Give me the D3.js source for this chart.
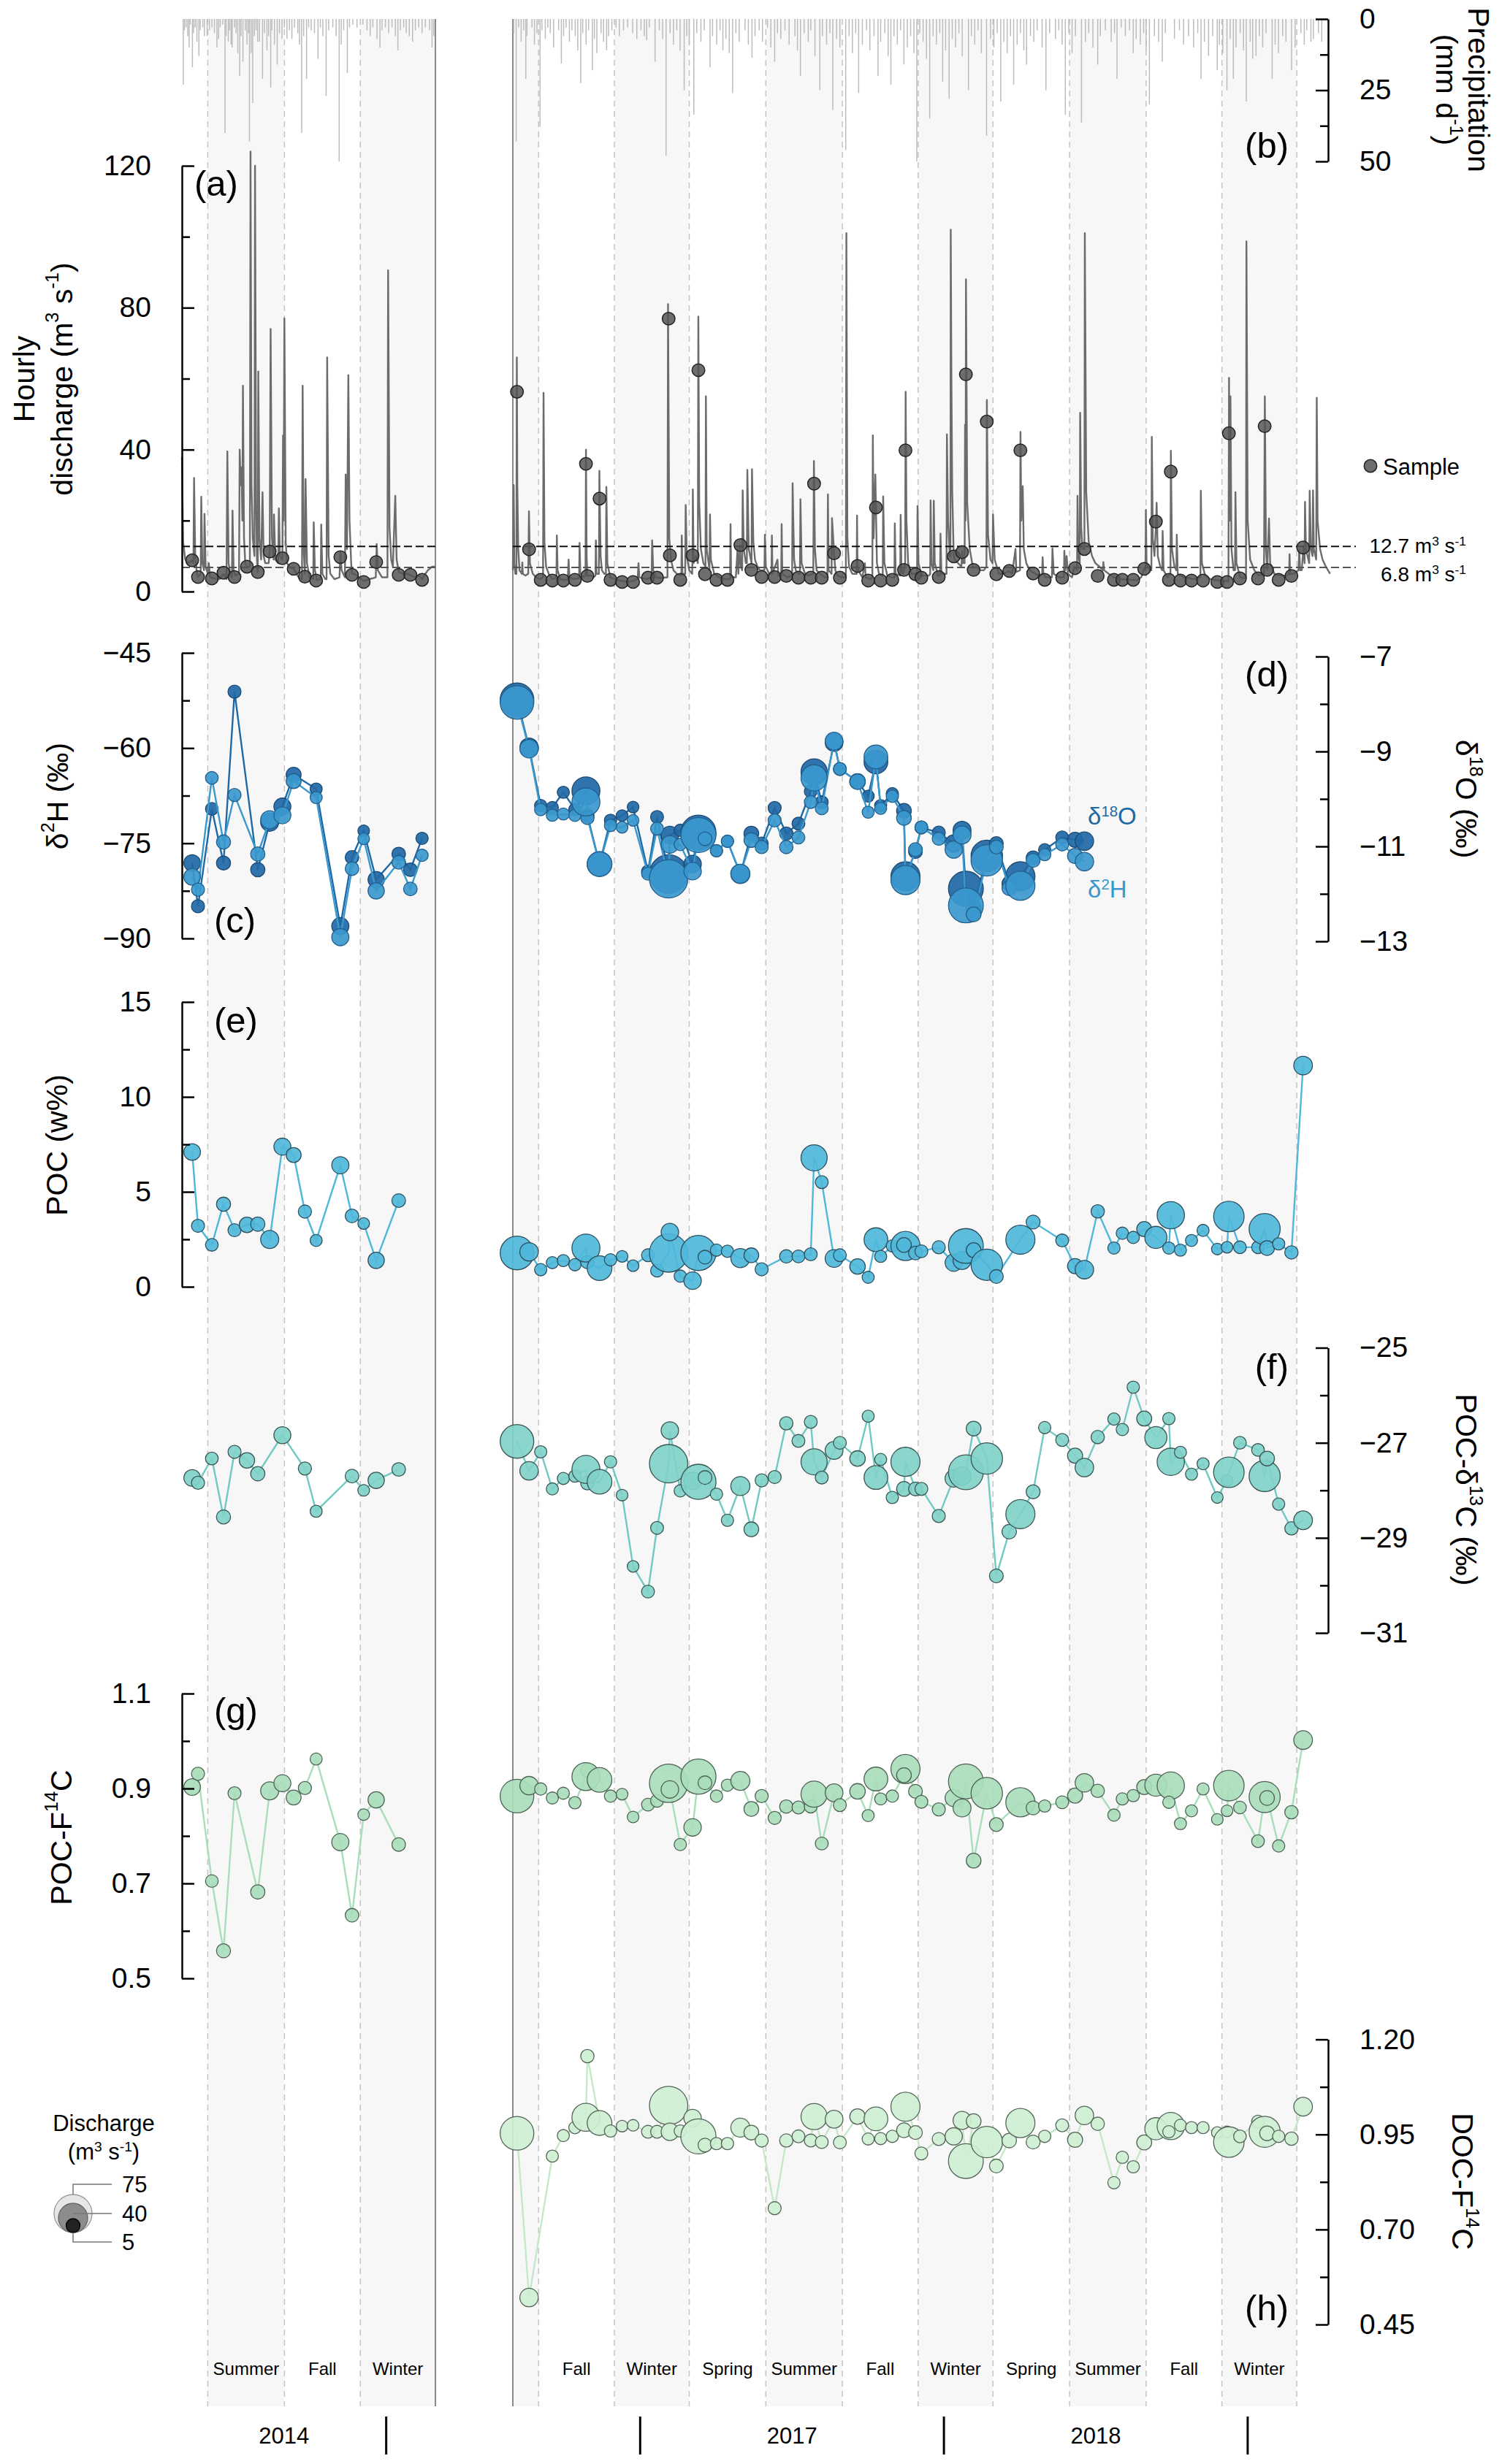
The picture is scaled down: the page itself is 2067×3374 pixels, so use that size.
<!DOCTYPE html>
<html><head><meta charset="utf-8">
<script src="https://cdn.jsdelivr.net/npm/d3@7"></script>
<style>body{margin:0;background:#fff}svg{display:block;font-family:"Liberation Sans",Arial,Helvetica,sans-serif}</style>
</head><body><svg id="c" width="2067" height="3374"></svg>
<script>
// ---------------- DATA ----------------
// Sample timing: days since panel start (left: 2014-05-01, right: 2016-08-01)
const sampleDayL = [12.3,19.3,35.9,49.9,63.1,78,91,105.3,120.5,134,147.5,161,190,204,218,233,260,274,288];
const sampleQL   = [8.8,4.1,3.7,5.3,4.1,7,5.5,11.3,9.4,6.4,4.2,3.1,9.7,4.7,2.7,8.3,4.7,4.7,3.3];
const d18OL = [-11.35,-12.26,-10.21,-11.35,-7.74,null,-11.49,-10.49,-10.16,-9.49,null,-9.79,-12.68,-11.23,-10.67,-11.70,-11.16,-11.49,-10.83];
const d2HL  = [-80.3,-82.3,-64.7,-74.8,-67.4,null,-76.7,-71.3,-70.6,-65.2,null,-67.8,-89.8,-79.0,-74.3,-82.5,-78.0,-82.2,-76.9];
const pocL  = [7.10,3.21,2.21,4.35,2.98,3.26,3.30,2.49,7.38,6.94,3.96,2.44,6.40,3.73,3.33,1.39,4.54,null,null];
const d13CL = [-27.74,-27.84,-27.33,-28.56,-27.19,-27.37,-27.65,null,-26.84,null,-27.54,-28.44,null,-27.70,-28.0,-27.79,-27.56,null,null];
const pocF14CL = [0.903,0.931,0.705,0.558,0.890,null,0.682,0.895,0.911,0.881,0.901,0.962,0.787,0.633,0.845,0.876,0.782,null,null];

const sampleDayR = [5.0,19.5,33.5,47.5,60.7,74.6,89.6,87.85,104.2,117.4, 131.3,144.5,162.4,173.3,187.2,188.7,201.2,216,223,230.9,
  244.7,257.9,273.4,286.6,299,314.6,328.6,343.2,358,362, 371.2,386,393,414.2,427,436.3,442,456,471.8,470.0,
  483.8,490.9,511.8,529.8,539.8,544.4,553.7,569.5,581,596.5, 609.9,625.2,639.1,660.1,675.6,686.8,702.8,722.3,732.4,745.5,
  758.7,772.7,790.6,788.3,802.2,815.5,829.4,846.5,858.2,860.4, 873.7,895.4,903.4,906.3,920.2,935.6,949.6];
const sampleQR = [56.3,11.9,3.3,3.1,3.1,3.3,4.4,36,26.2,3.3, 2.7,2.7,3.9,3.9,76.9,10.2,3.3,10.2,62.4,4.9,
  3.3,3.3,13.1,6.1,4.1,4.1,4.4,3.9,3.9,30.4, 3.9,10.8,3.9,7.2,3.1,23.7,3.1,3.3,39.8,6.1,
  4.9,3.9,4.1,9.9,11.1,61.2,6.1,47.9,4.9,5.8, 39.8,5.1,3.3,3.9,6.6,12,4.4,3.3,3.3,3.3,
  6.4,19.7,33.8,3.3,3.1,3.1,3.1,2.7,2.7,44.6, 3.7,3.7,46.6,6.1,3.3,4.4,12.4];
const d18OR = [-7.91,-8.91,-10.14,-10.18,-9.86,-10.22,-10.35,-9.83,-11.37,-10.45,
  -10.35,-10.17,-11.53,-10.38,-11.58,-10.76,-10.66,-11.37,-10.71,-10.84,
  -11.09,-10.89,-11.58,-10.73,-10.94,-10.19,-10.73,-10.52,-9.84,-9.43,
  -10.07,-8.81,-9.37,-9.63,-9.94,-9.22,-10.14,-9.89,-11.63,-10.25,
  -11.11,-10.6,-10.71,-10.94,-10.66,-11.89,-12.30,-11.20,-10.94,-11.78,
  -11.63,-11.24,-11.07,-10.81,-10.86,-10.89,
  null,null,null,null,null,null,null,null,null,null,null,null,null,null,null,null,null,null,null,null,null];
const d2HR = [-52.8,-60.1,-69.7,-70.6,-70.4,-70.6,-71.0,-68.5,-78.3,-72.2,
  -72.5,-71.4,-79.8,-72.7,-80.6,-75.2,-75.2,-79.4,-73.7,-74.3,
  -76.2,-74.7,-79.8,-74.5,-75.6,-71.4,-75.6,-74.1,-68.5,-64.7,
  -69.5,-58.9,-63.3,-65.3,-70.1,-61.4,-69.5,-67.6,-80.8,-71.0,
  -76.0,-72.5,-74.3,-76.0,-73.7,-84.8,-86.2,-77.7,-75.6,-82.1,
  -81.7,-77.7,-76.8,-75.2,-77.0,-77.9,
  null,null,null,null,null,null,null,null,null,null,null,null,null,null,null,null,null,null,null,null,null];
const pocR = [1.78,1.84,0.90,1.27,1.38,1.16,1.3,2.04,0.98,1.42, 1.60,1.11,1.66,0.85,1.78,2.88,0.56,0.32,1.78,1.56,
  1.93,1.87,1.51,1.66,0.92,null,1.60,1.60,1.71,6.79, 5.51,1.49,1.66,1.07,0.50,2.48,1.60,2.15,2.15,2.2,
  1.78,1.87,2.08,1.27,1.38,2.15,1.93,1.16,0.54,null, 2.48,3.41,null,2.44,1.09,0.90,3.97,2.04,2.82,2.60,
  3.04,2.60,3.77,2.04,1.93,2.44,2.97,1.99,2.08,3.70, 2.08,2.08,3.04,2.04,2.26,1.81,11.65];
const d13CR = [-26.97,-27.59,-27.19,-27.97,-27.75,-27.70,-27.85,-27.56,-27.82,-27.40,
  -28.10,-29.60,-30.13,-28.79,-27.44,-26.74,-28.01,-27.8,-27.82,-27.73,
  -28.08,-28.63,-27.91,-28.82,-27.79,-27.72,-26.59,-26.96,-26.56,-27.40,
  -27.73,-27.16,-27.0,-27.33,-26.44,-27.73,-27.35,-28.15,-27.40,-27.97,
  -27.97,-27.97,-28.54,-27.75,-27.7,-27.62,-26.70,-27.33,-29.80,-28.87,
  -28.50,-28.03,-26.68,-26.94,-27.27,-27.52,-26.88,-26.50,-26.72,-25.83,
  -26.49,-26.89,-27.40,-26.49,-27.20,-27.66,-27.44,-28.15,-27.79,-27.62,
  -27.0,-27.15,-27.70,-27.33,-28.29,-28.80,-28.63];
const pocF14CR = [0.884,0.906,0.899,0.880,0.890,0.870,0.938,0.925,0.918,0.884,
  0.888,0.840,0.866,0.874,0.911,0.898,0.782,0.818,0.925,0.912,
  0.884,0.907,0.916,0.857,0.884,0.838,0.862,0.860,0.862,0.888,
  0.784,0.891,0.865,0.894,0.843,0.920,0.878,0.884,0.941,0.928,
  0.894,0.872,0.856,0.880,0.859,0.915,0.748,0.890,0.824,null,
  0.871,0.859,0.863,0.871,0.885,0.912,0.895,0.844,0.878,0.885,
  0.903,0.907,0.906,0.871,0.826,0.853,0.899,0.835,0.853,0.906,
  0.86,0.789,0.882,0.88,0.779,0.850,1.002];
const docF14CR = [0.953,0.521,null,0.893,0.947,0.968,1.156,0.995,0.98,0.959,
  0.972,0.974,0.957,0.957,1.026,0.957,0.959,0.993,0.945,0.922,
  0.926,0.926,0.968,0.955,0.934,0.756,0.934,0.945,0.934,0.997,
  0.930,0.990,0.929,0.997,0.938,0.991,0.939,0.945,1.023,0.961,
  0.955,0.900,0.938,0.945,0.987,0.880,0.985,0.930,0.867,0.934,
  0.980,0.930,0.945,0.974,0.936,1.000,0.978,0.823,0.890,0.865,
  0.929,0.965,0.972,0.957,0.974,0.968,0.968,0.955,0.957,0.930,
  0.945,0.984,0.957,0.953,0.945,0.939,1.023];

// Hourly discharge (day, m3/s)
const hydroL = [[0,38],[1.5,14],[4,9],[8,8],[12.3,8.8],[13.8,8],[14.6,32],[16,10],[18,5],[19.3,4.1],[22.5,5],[23.2,26.7],[24.5,8],[26.5,6],
  [27.1,21.9],[28.5,7],[31,5],[32.2,8],[34,4],[40,3.6],[45,3.5],[50,5],[53.5,3.5],[54.5,39.5],[56,8],[58,5],[60,4],[60.7,22.8],[62,6],
  [64,4.5],[68.5,5],[69.3,40],[70.5,30],[71.5,35],[72.5,20],[73.2,58],[74.5,15],[76,8],[78,7],[81.5,7],[82.3,124],[83.5,30],[85,15],
  [87,10],[87.7,120],[89,25],[90,9],[91,5.5],[91.6,62],[93,15],[95,9],[96.7,28],[98,10],[100,8],[104,8],[105.3,11],[106.4,74],[108,15],
  [110,9],[110.4,21.7],[112,9],[115.5,8],[116.3,23.4],[117.5,10],[120.5,9],[121.3,44],[122,20],[122.9,77],[124.5,14],[126,8],[129,7],
  [134,6.4],[140,4],[144,3.5],[144.8,58],[146,12],[147.5,5],[148.3,31.7],[150,8],[153,4],[157.5,3.5],[158.1,19.5],[159.5,6],[162,3.2],
  [166.5,3.5],[167.1,18.9],[168.5,5],[172,3.5],[173.5,3.5],[174.2,66],[176,10],[178,5],[183,3.5],[189,4],[190,11],[191.5,6],[195.5,4],
  [196.4,33],[198,12],[199.6,61],[201,20],[203,8],[204,5],[206,5],[210,4.5],[215,3.5],[218,3],[225,3.5],[232.5,4],[233,8.3],[233.6,13.4],
  [235,6],[240,4],[246.5,4],[247.3,90.5],[249,18],[251,9],[253,7],[255.9,27],[257.5,9],[260,5.5],[265,5],[270,5],[275,4.5],[280,4],
  [285,4.5],[288,3.5],[292,5],[295,6],[300,7],[304,7]];
const hydroR = [[0,6],[1,30],[1.8,8],[3,5],[4.3,5],[4.8,66],[5.4,30],[6.5,12],[8,6],[10.8,5],[11.4,8.2],[12,5],[15,4.5],[18.5,5],
  [19.4,22.6],[20.5,8],[24,5],[28,4],[33,3.5],[36.3,4],[36.9,56],[38,14],[40,7],[44,4.5],[48,3.5],[52.4,4],[52.9,15.8],[53.8,6],[57,3.5],
  [62,3.3],[66,3.5],[67,9],[68,4],[73,3.5],[79.6,3.8],[80.2,13.7],[81.2,5],[85,4],[87.3,4.5],[87.9,40],[88.7,10],[89.6,4.4],[91,4.5],
  [94,4.5],[97,4],[99.3,4.5],[99.8,14.4],[100.5,5],[103.4,5],[104,34],[104.4,26],[105.5,10],[107,6],[110,5],[111.8,5],[112.4,29.5],
  [113.6,8],[117,4],[122,3.5],[130,3],[140,2.8],[145,3],[150,3.5],[151,8],[152,4],[160,3.5],[166.8,4],[167.4,14.4],[168.7,6],[172,4],
  [178,3.8],[185.8,4],[186.5,81],[188,15],[190,9],[193,6],[197,5],[202.5,4.5],[203,15.8],[203.7,5],[207.1,5],[207.7,24.4],[209,10],
  [212,6],[215.5,5],[216,10.2],[216.3,28.8],[217.2,8],[220,10],[222.3,8],[222.9,77.5],[224,25],[226,12],[229,8],[231.5,7],[232,55],
  [233,12],[236.3,6],[236.9,21.7],[238,9],[242,5],[248,4],[255,3.5],[261,3.5],[261.6,19],[262.3,4],[268,4],[270,12],[271,5],[273,13],
  [274,7],[275.6,6],[276.2,28.5],[277.5,12],[280,8],[281.2,8],[281.8,34.3],[283.5,12],[286.8,8],[287.4,34.5],[289,14],[291,9],[294,7],
  [297,6],[302.3,6],[302.9,16],[304,7],[308,5],[310.8,5],[311.3,15.8],[312,5],[318,9],[319,4.5],[322.5,4.5],[323,19],[323.8,5],[330,4],
  [335.6,4.5],[336.2,30.5],[337,20],[338,9],[340,6],[343,5],[345,5],[345.6,26],[347,8],[351,5],[355,4.5],[361,5],[361.8,36.8],[363,12],
  [365,6],[369,5],[375,4],[378,4],[378.6,27.4],[379.5,6],[383,5],[383.5,20.7],[386,11],[387.5,6],[390,4.5],[395,4],[400.2,4],
  [400.8,101],[402,15],[404,7],[408,5],[413.2,5],[413.6,21.4],[414.2,7.2],[415,6],[420,4],[423,8],[424,4],[430,3.5],[432,4],
  [432.6,44],[433.5,15],[435.6,33],[436.3,23.7],[437.5,8],[440,5],[444.5,4.5],[445,26.8],[446.5,8],[450,4.5],[455,4],[458.5,4],
  [459,19.2],[460,5],[465.5,4.5],[466,21.6],[467,6],[469,5],[470,6.1],[471.4,8],[472,56.3],[473,20],[475,8],[479,5],[483,5],
  [485.7,5],[486.3,24.1],[487.5,8],[491,4.5],[495,4.5],[500,4.5],[501.5,5],[502,25.7],[503,8],[505.3,6],[505.8,25.6],[507,8],[511,4.5],
  [513.4,4.5],[513.9,16.3],[515,5],[518,5],[521.1,5],[521.6,44.3],[523,20],[525,10],[525.8,10],[526.2,102],[527,60],[528,28],
  [529.8,9.9],[531,9],[535,8],[539,7],[539.8,11.4],[541,8],[542.9,8],[543.4,47],[544,20],[544.5,88],[546,25],[549,12],[553,6.6],
  [557,7],[562,6],[566,6],[569.1,7],[569.6,54],[571,16],[574,9],[576.4,8],[577,21.7],[579,9],[584,5],[590,5],[596,5.8],[600,5],
  [604,12],[605,5.5],[609.4,6],[610,45],[611,20],[612.7,29.7],[614,12],[617,8],[621,6],[626,5.3],[632,4.5],[636,5],[636.6,9.7],
  [637.5,5],[640,4],[647.8,4],[648.4,12.2],[650,5],[656,4],[662.2,4],[662.7,11.5],[664,6],[665.5,10],[667,5],[672,4],[674.7,7],
  [678,6],[678.5,27],[679.5,10],[681.2,8],[681.7,50.4],[683,18],[684.5,12],[686.8,12],[687.3,101],[689,28],[692,14],[696,10],[700,8],
  [705,7],[709,6],[709.6,8.3],[710.5,6],[716,5],[722,4],[730,3.5],[740,3.3],[750,3.2],[755,4],[759,6.6],[760.2,6],[760.7,23],
  [761.5,8],[765,6],[767.3,6],[767.8,43.6],[769,15],[771,10],[773,20],[773.6,25],[775,10],[778,7],[780.3,6],[780.8,17.1],[782,6],
  [786.5,4],[790.2,5],[790.7,39.7],[792,12],[795,7],[797.3,6],[797.8,16],[799,5],[806,4],[812,3.8],[818,3.5],[826.2,4],[826.7,28.4],
  [828,8],[832,4.5],[838,3.5],[845,3.2],[852,3],[859.9,3],[860.6,60.2],[861.5,20],[862.3,55],[863.5,12],[866,6],[867.8,6],[868.3,28],
  [869.5,8],[874,4],[878,3.8],[881,4],[881.5,98.7],[883,20],[886,9],[891,6],[896,4.5],[902.6,5],[903.6,55],[905,12],[906.5,6.1],
  [908.6,20.6],[910,8],[915,5],[922,4.5],[930,4.5],[932.8,5],[933.3,10.5],[934,5],[938,5],[944,6],[945,12],[946,6],[948,6],[950,12.7],
  [951.4,8],[951.9,25.3],[953,12],[956.9,8],[957.5,28.4],[959,12],[961,10],[961.5,28.5],[962.5,12],[965.3,9],[966,54.6],[967,20],
  [970,12],[973,9],[977,7],[982,5]];

// Daily precipitation (day, mm)
const precipL = [[1.6,23],[8.7,10],[12.6,17],[20.4,13],[30.2,6],[42,10],[51.7,40],[55.6,8],[60.3,10],[69.3,20],[73.2,15],[81,43],
  [84.9,29.5],[90.8,8],[96.7,21],[106.5,24],[114.3,16],[126,7],[131.9,7],[143.6,40],[149.5,21],[163.2,14],[173,27],[188.6,50],
  [198.4,19],[225.8,6],[237.5,10],[259,11],[272.7,6],[276.6,8],[300,10],
  [3,4],[5,3],[7,6],[10,2],[14,5],[16,3],[18,8],[22,4],[25,3],[27,6],[33,4],[36,3],[39,5],[44,7],[46,3],[49,2],[53,6],[57,4],[59,9],
  [63,3],[65,5],[67,12],[71,6],[76,4],[78,9],[80,5],[83,12],[87,6],[89,4],[93,8],[99,5],[102,11],[104,6],[108,4],[111,9],[117,5],
  [120,7],[123,3],[129,4],[135,3],[139,5],[141,9],[146,6],[152,3],[155,4],[159,5],[166,3],[169,6],[176,4],[181,3],[185,6],[191,9],
  [194,4],[201,3],[205,2],[210,3],[217,2],[222,4],[229,3],[234,7],[240,4],[244,3],[248,5],[252,3],[256,6],[262,4],[266,3],[269,5],
  [280,4],[284,3],[288,5],[292,3],[297,4],[302,6]];
const precipR = [[4,43],[15.6,21],[32.7,37.8],[58.3,15.6],[81.6,22.5],[95.6,18],[112.7,11],[160.8,7.5],[170.9,15],[184.1,48],
  [205.9,25],[217.5,33.6],[236.9,17],[252.4,11],[264.1,26],[287.4,13.6],[314.6,15],[345.6,20],[368.9,25],[384.5,32],[400,46],
  [415.5,26],[438.8,20],[454.3,23],[469.9,16],[485.4,50],[500.9,35],[516.5,22],[524.2,28],[547.5,25],[569.2,41],[586.3,29],
  [601.8,23],[617.3,16],[640.6,25],[663.9,33.6],[683.3,36.4],[702.8,16],[726,21],[745.5,12],[764.9,30],[780.4,15],[827,21],
  [846.4,18],[858.1,25],[865.8,21],[881.3,29],[893,13],[912.4,21],[935.7,18],[959,8],
  [1,5],[7,3],[10,8],[13,4],[17,6],[23,3],[26,9],[29,5],[35,4],[39,7],[42,3],[45,5],[49,10],[55,4],[61,6],[64,3],[68,8],[71,4],
  [75,6],[78,11],[84,5],[88,9],[91,4],[98,7],[101,12],[106,5],[109,8],[115,6],[119,4],[124,3],[128,6],[133,4],[138,3],[144,5],
  [149,7],[154,4],[158,6],[164,3],[176,4],[180,7],[189,5],[193,9],[197,4],[201,11],[209,6],[212,9],[221,5],[226,8],[230,4],[240,6],
  [245,9],[249,4],[256,7],[260,12],[268,5],[272,8],[279,4],[283,9],[291,6],[296,4],[300,8],[306,3],[310,10],[318,5],[322,7],[327,4],
  [332,9],[339,6],[342,11],[350,5],[355,8],[358,4],[363,13],[372,6],[377,9],[381,5],[389,7],[393,10],[404,6],[408,12],[412,5],
  [420,9],[425,4],[429,11],[434,6],[442,8],[447,5],[451,13],[458,6],[462,9],[466,4],[474,10],[478,6],[482,12],[489,5],[493,8],
  [497,14],[505,6],[509,9],[513,5],[520,11],[528,7],[532,10],[536,5],[540,13],[551,6],[555,9],[559,4],[563,12],[574,7],[578,10],
  [582,5],[590,8],[594,12],[598,6],[606,9],[610,5],[614,11],[622,6],[626,8],[630,4],[636,10],[645,5],[652,7],[656,4],[660,9],
  [668,5],[672,12],[676,6],[688,8],[692,5],[697,10],[706,6],[712,4],[719,8],[723,5],[731,3],[736,6],[741,4],[749,7],[754,9],
  [758,5],[761,11],[771,6],[776,8],[784,5],[795,7],[801,4],[806,9],[812,6],[818,10],[823,5],[831,8],[836,13],[841,6],[849,9],
  [853,12],[862,7],[869,10],[874,5],[878,11],[886,8],[889,14],[897,6],[901,10],[905,5],[916,9],[920,12],[925,6],[929,8],[940,10],
  [947,5],[951,9],[954,4],[962,7],[968,5],[972,8]];

// Seasons, years, thresholds, legend
const seasonBoundsL = ["2014-06-01","2014-09-01","2014-12-01","2015-03-01"];
const seasonNamesL  = ["Summer","Fall","Winter"];
const seasonBoundsR = ["2016-09-01","2016-12-01","2017-03-01","2017-06-01","2017-09-01","2017-12-01","2018-03-01","2018-06-01","2018-09-01","2018-12-01","2019-03-01"];
const seasonNamesR  = ["Fall","Winter","Spring","Summer","Fall","Winter","Spring","Summer","Fall","Winter"];
const shadedL = [["2014-06-01","2014-09-01"],["2014-12-01","2015-03-01"]];
const shadedR = [["2016-08-01","2016-09-01"],["2016-12-01","2017-03-01"],["2017-06-01","2017-09-01"],["2017-12-01","2018-03-01"],["2018-06-01","2018-09-01"],["2018-12-01","2019-03-01"]];
const yearTicks = ["2015-01-01","2017-01-01","2018-01-01","2019-01-01"];
const yearLabels = [["2014","2014-05-01","2015-01-01"],["2017","2017-01-01","2018-01-01"],["2018","2018-01-01","2019-01-01"]];
const thresholds = [12.7, 6.8];
const legendQ = [75, 40, 5];

// ---------------- DRAWING ----------------
const svg = d3.select("#c");
const parse = d3.timeParse("%Y-%m-%d");
const startL = parse("2014-05-01"), endL = parse("2015-03-01");
const startR = parse("2016-08-01"), endR = parse("2019-04-05");
const xL = d3.scaleTime().domain([startL,endL]).range([249,596]);
const xR = d3.scaleTime().domain([startR,endR]).range([702,1815]);
const dt = (s,d) => new Date(s.getTime()+d*864e5);
const TOP = 26, BOT = 3295, AXL = 249, AXR = 1818;

const yPrec = d3.scaleLinear().domain([0,50]).range([26,221]);
const yQ    = d3.scaleLinear().domain([0,120]).range([810,227]);
const yH2   = d3.scaleLinear().domain([-90,-45]).range([1285,894]);
const yO18  = d3.scaleLinear().domain([-13,-7]).range([1289,899]);
const yPOC  = d3.scaleLinear().domain([0,15]).range([1762,1372]);
const yC13  = d3.scaleLinear().domain([-31,-25]).range([2236,1845.5]);
const yPF   = d3.scaleLinear().domain([0.5,1.1]).range([2709,2319]);
const yDF   = d3.scaleLinear().domain([0.45,1.2]).range([3183,2792.6]);
const rQ    = d3.scaleSqrt().domain([0,75]).range([3.75,26]);

// background shading
const bg = svg.append("g");
shadedL.forEach(([a,b])=>bg.append("rect").attr("x",xL(parse(a))).attr("y",TOP).attr("width",xL(parse(b))-xL(parse(a))).attr("height",BOT-TOP).attr("fill","#f7f7f7"));
shadedR.forEach(([a,b])=>bg.append("rect").attr("x",xR(parse(a))).attr("y",TOP).attr("width",xR(parse(b))-xR(parse(a))).attr("height",BOT-TOP).attr("fill","#f7f7f7"));
seasonBoundsL.slice(0,3).forEach(s=>bg.append("line").attr("x1",xL(parse(s))).attr("x2",xL(parse(s))).attr("y1",TOP).attr("y2",BOT).attr("stroke","#c4c4c4").attr("stroke-width",1.5).attr("stroke-dasharray","8,6"));
seasonBoundsR.forEach(s=>bg.append("line").attr("x1",xR(parse(s))).attr("x2",xR(parse(s))).attr("y1",TOP).attr("y2",BOT).attr("stroke","#c4c4c4").attr("stroke-width",1.5).attr("stroke-dasharray","8,6"));
[xL(endL), xR(startR)].forEach(x=>bg.append("line").attr("x1",x).attr("x2",x).attr("y1",TOP).attr("y2",BOT).attr("stroke","#8a8a8a").attr("stroke-width",2));

// season labels
seasonNamesL.forEach((n,i)=>svg.append("text").attr("x",(xL(parse(seasonBoundsL[i]))+xL(parse(seasonBoundsL[i+1])))/2).attr("y",3243).attr("text-anchor","middle").attr("dominant-baseline","central").attr("font-size",24).text(n));
seasonNamesR.forEach((n,i)=>svg.append("text").attr("x",(xR(parse(seasonBoundsR[i]))+xR(parse(seasonBoundsR[i+1])))/2).attr("y",3243).attr("text-anchor","middle").attr("dominant-baseline","central").attr("font-size",24).text(n));
// year ticks / labels
yearTicks.forEach(s=>{const d=parse(s); const x = d<endL? xL(d): xR(d);
  svg.append("line").attr("x1",x).attr("x2",x).attr("y1",3309).attr("y2",3361).attr("stroke","#000").attr("stroke-width",3);});
yearLabels.forEach(([t,a,b])=>{const da=parse(a),db=parse(b); const x = da<endL ? (xL(da)+xL(db))/2 : (xR(da)+xR(db))/2;
  svg.append("text").attr("x",x).attr("y",3335).attr("text-anchor","middle").attr("dominant-baseline","central").attr("font-size",31).text(t);});

// precipitation
const pg = svg.append("g").attr("stroke","#bcbcbc").attr("stroke-width",1.5);
precipL.forEach(([d,m])=>{const x=xL(dt(startL,d)); pg.append("line").attr("x1",x).attr("x2",x).attr("y1",yPrec(0)).attr("y2",yPrec(m));});
precipR.forEach(([d,m])=>{const x=xR(dt(startR,d)); pg.append("line").attr("x1",x).attr("x2",x).attr("y1",yPrec(0)).attr("y2",yPrec(m));});

// discharge
const qline = (x,s)=>d3.line().x(p=>x(dt(s,p[0]))).y(p=>yQ(p[1]));
svg.append("path").datum(hydroL).attr("d",qline(xL,startL)).attr("fill","none").attr("stroke","#6c6c6c").attr("stroke-width",2.4).attr("stroke-linejoin","round");
svg.append("path").datum(hydroR).attr("d",qline(xR,startR)).attr("fill","none").attr("stroke","#6c6c6c").attr("stroke-width",2.4).attr("stroke-linejoin","round");
// thresholds
[[thresholds[0],"#111"],[thresholds[1],"#555"]].forEach(([v,c])=>{
  svg.append("line").attr("x1",AXL).attr("x2",xL(endL)).attr("y1",yQ(v)).attr("y2",yQ(v)).attr("stroke",c).attr("stroke-width",2).attr("stroke-dasharray","11,5");
  svg.append("line").attr("x1",xR(startR)).attr("x2",1856).attr("y1",yQ(v)).attr("y2",yQ(v)).attr("stroke",c).attr("stroke-width",2).attr("stroke-dasharray","11,5");
});
function rich(parent, parts, attrs){
  const t = parent.append("text");
  Object.entries(attrs).forEach(([k,v])=>t.attr(k,v));
  let shifted=false;
  parts.forEach(p=>{
    const isSup = Array.isArray(p);
    const s = t.append("tspan").text(isSup?p[0]:p);
    if(isSup){ s.attr("font-size","0.62em"); if(!shifted){s.attr("dy","-0.55em"); shifted=true;} }
    else if(shifted){ s.attr("dy","0.34em"); shifted=false; }
  });
  return t;
}
rich(svg,["12.7 m",["3"]," s",["-1"]],{x:2007,y:757,"text-anchor":"end","font-size":28});
rich(svg,["6.8 m",["3"]," s",["-1"]],{x:2007,y:796,"text-anchor":"end","font-size":28});

// sample dots on discharge
const sampFill = (g,x,s,days,q)=>g.selectAll("circle").data(days.map((d,i)=>[d,q[i]])).join("circle")
  .attr("cx",p=>x(dt(s,p[0]))).attr("cy",p=>yQ(p[1])).attr("r",8.7).attr("fill","#555").attr("fill-opacity",0.85).attr("stroke","#222").attr("stroke-width",1.5);
sampFill(svg.append("g"),xL,startL,sampleDayL,sampleQL);
sampFill(svg.append("g"),xR,startR,sampleDayR,sampleQR);
svg.append("circle").attr("cx",1876).attr("cy",638).attr("r",8.7).attr("fill","#555").attr("fill-opacity",0.85).attr("stroke","#222").attr("stroke-width",1.5);
svg.append("text").attr("x",1893).attr("y",639).attr("dominant-baseline","central").attr("font-size",31).text("Sample");

// chemistry series
function series(side, vals, y, fill, lineCol, strokeCol){
  const S = side==="L" ? {x:xL,s:startL,d:sampleDayL,q:sampleQL} : {x:xR,s:startR,d:sampleDayR,q:sampleQR};
  const pts = vals.map((v,i)=>({v, t:dt(S.s,S.d[i]), q:S.q[i]})).filter(p=>p.v!=null);
  const sorted = pts.slice().sort((a,b)=>a.t-b.t);
  svg.append("path").datum(sorted).attr("d",d3.line().x(p=>S.x(p.t)).y(p=>y(p.v)))
    .attr("fill","none").attr("stroke",lineCol).attr("stroke-width",2.4);
  svg.append("g").selectAll("circle").data(pts).join("circle")
    .attr("cx",p=>S.x(p.t)).attr("cy",p=>y(p.v)).attr("r",p=>rQ(p.q))
    .attr("fill",fill).attr("fill-opacity",0.92).attr("stroke",strokeCol).attr("stroke-width",1.3);
}
["L","R"].forEach(side=>{
  const L = side==="L";
  series(side, L?d18OL:d18OR, yO18, "#1f68a6", "#1f68a6", "#1b4a74");
  series(side, L?d2HL:d2HR, yH2, "#3a98cd", "#3a98cd", "#22608e");
  series(side, L?pocL:pocR, yPOC, "#4fb7da", "#4fb7da", "#2f4f5e");
  series(side, L?d13CL:d13CR, yC13, "#80d1c8", "#70cac1", "#3b5755");
  series(side, L?pocF14CL:pocF14CR, yPF, "#a9ddbb", "#a9ddbb", "#4e6356");
  if(!L) series(side, docF14CR, yDF, "#ceefd1", "#c4e9c8", "#55655a");
});

// axes
function axis(side, y, major, minor, fmt){
  const x = side==="L"?AXL:AXR;
  const mk = side==="L"?d3.axisLeft:d3.axisRight;
  const g1 = svg.append("g").attr("transform",`translate(${x},0)`).call(mk(y).tickValues(minor).tickSize(-11).tickFormat(""));
  g1.select(".domain").remove();
  const g2 = svg.append("g").attr("transform",`translate(${x},0)`).call(mk(y).tickValues(major).tickSize(-17).tickSizeOuter(0).tickPadding(side==="L"?42:43).tickFormat(fmt));
  [g1,g2].forEach(g=>{g.selectAll("line").attr("stroke","#000").attr("stroke-width",2.5); g.selectAll(".domain").attr("stroke","#000").attr("stroke-width",2.5);});
  g2.selectAll("text").attr("font-size",39).attr("font-family",'"Liberation Sans",Arial,sans-serif').attr("fill","#000");
}
const mfmt = d=> (d<0?"\u2212":"")+Math.abs(d);
axis("R", yPrec, [0,25,50], [12.5,37.5], d=>d);
axis("L", yQ, [0,40,80,120], [20,60,100], d=>d);
axis("L", yH2, [-90,-75,-60,-45], [-82.5,-67.5,-52.5], mfmt);
axis("R", yO18, [-13,-11,-9,-7], [-12,-10,-8], mfmt);
axis("L", yPOC, [0,5,10,15], [2.5,7.5,12.5], d=>d);
axis("R", yC13, [-31,-29,-27,-25], [-30,-28,-26], mfmt);
axis("L", yPF, [0.5,0.7,0.9,1.1], [0.6,0.8,1.0], d3.format(".1f"));
axis("R", yDF, [0.45,0.70,0.95,1.20], [0.575,0.825,1.075], d3.format(".2f"));

// axis titles
function vtitle(cx, cy, rot, lines){
  const g = svg.append("g").attr("transform",`translate(${cx},${cy}) rotate(${rot})`);
  lines.forEach(([dy,parts])=>rich(g,parts,{x:0,y:dy,"text-anchor":"middle","dominant-baseline":"central","font-size":41}));
}
vtitle(59,519,-90,[[-26,["Hourly"]],[26,["discharge (m",["3"]," s",["-1"],")"]]]);
vtitle(79,1090,-90,[[0,["\u03b4",["2"],"H (\u2030)"]]]);
vtitle(78,1568,-90,[[0,["POC (w%)"]]]);
vtitle(84,2516,-90,[[0,["POC-F",["14"],"C"]]]);
vtitle(2002,123,90,[[-22,["Precipitation"]],[22,["(mm d",["-1"],")"]]]);
vtitle(2007,1094,90,[[0,["\u03b4",["18"],"O (\u2030)"]]]);
vtitle(2007,2040,90,[[0,["POC-\u03b4",["13"],"C (\u2030)"]]]);
vtitle(2002,2987,90,[[0,["DOC-F",["14"],"C"]]]);

// panel labels
[["(a)",266,251,"start"],["(b)",1764,199,"end"],["(c)",293,1260,"start"],["(d)",1764,923,"end"],
 ["(e)",293,1397,"start"],["(f)",1764,1871,"end"],["(g)",293,2342,"start"],["(h)",1764,3160,"end"]]
 .forEach(([t,x,y,a])=>svg.append("text").attr("x",x).attr("y",y).attr("text-anchor",a).attr("dominant-baseline","central").attr("font-size",49).text(t));

// delta labels
rich(svg,["\u03b4",["18"],"O"],{x:1489,y:1129,"font-size":33,fill:"#1f68a6"});
rich(svg,["\u03b4",["2"],"H"],{x:1489,y:1229,"font-size":33,fill:"#3a98cd"});

// discharge size legend
svg.append("text").attr("x",142).attr("y",2907).attr("text-anchor","middle").attr("dominant-baseline","central").attr("font-size",31).text("Discharge");
rich(svg,["(m",["3"]," s",["-1"],")"],{x:142,y:2957,"text-anchor":"middle","font-size":31});
const legBottom = 3057, lcx = 100;
const legStyle = {75:["#e6e6e6","#9a9a9a"],40:["#8c8c8c","#666"],5:["#222","#000"]};
legendQ.forEach(q=>svg.append("circle").attr("cx",lcx).attr("cy",legBottom-rQ(q)).attr("r",rQ(q)).attr("fill",legStyle[q][0]).attr("stroke",legStyle[q][1]).attr("stroke-width",1.3));
const lead = svg.append("g").attr("fill","none").attr("stroke","#777").attr("stroke-width",1.5);
lead.append("path").attr("d",`M${lcx},${legBottom-2*rQ(75)}V2991H153`);
lead.append("path").attr("d",`M${lcx},${legBottom-rQ(75)}H153`);
lead.append("path").attr("d",`M${lcx},${legBottom}V3070H153`);
[[75,2991],[40,legBottom-rQ(75)],[5,3070]].forEach(([q,y])=>svg.append("text").attr("x",167).attr("y",y).attr("dominant-baseline","central").attr("font-size",31).text(q));
</script></body></html>
